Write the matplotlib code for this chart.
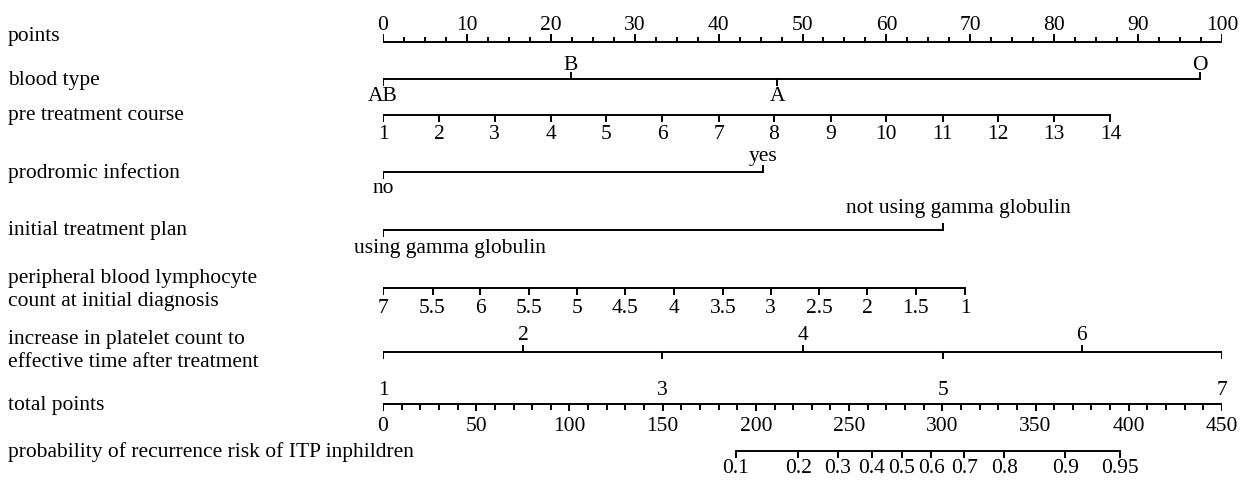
import numpy as np
from matplotlib import pyplot as plt
from matplotlib.transforms import offset_copy

# values (positions in "points", 0-100)
points_major = np.arange(0, 101, 10)
points_minor = np.arange(0, 100.1, 2.5)

blood_labels = ['AB', 'B', 'A', 'O']
blood_points = [0, 22.4, 47.0, 97.4]
blood_above = [False, True, False, True]

course_labels = ['1', '2', '3', '4', '5', '6', '7', '8', '9', '10', '11', '12', '13', '14']
course_points = [0, 6.7, 13.3, 20.0, 26.6, 33.3, 40.0, 46.6, 53.4, 60.0, 66.7, 73.3, 80.0, 86.7]

infection_labels = ['no', 'yes']
infection_points = [0, 45.3]

plan_labels = ['using gamma globulin', 'not using gamma globulin']
plan_points = [0, 66.8]

lympho_labels = ['7', '5.5', '6', '5.5', '5', '4.5', '4', '3.5', '3', '2.5', '2', '1.5', '1']
lympho_points = [0, 5.9, 11.6, 17.4, 23.1, 28.9, 34.7, 40.5, 46.2, 52.0, 57.7, 63.5, 69.4]

platelet_labels = ['1', '2', '3', '4', '5', '6', '7']
platelet_points = [0, 16.7, 33.3, 50.0, 66.7, 83.3, 100.0]

total_major = np.arange(0, 451, 50)
total_minor = np.arange(0, 451, 10)

prob_labels = ['0.1', '0.2', '0.3', '0.4', '0.5', '0.6', '0.7', '0.8', '0.9', '0.95']
prob_total = [189.3, 222.8, 243.9, 262.2, 278.3, 294.0, 311.8, 333.3, 365.9, 395.3]

row_names = ['points', 'blood type', 'pre treatment course', 'prodromic infection',
             'initial treatment plan',
             'peripheral blood lymphocyte\ncount at initial diagnosis',
             'increase in platelet count to\neffective time after treatment',
             'total points', 'probability of recurrence risk of ITP inphildren']

plt.rcParams['font.family'] = ['Liberation Serif', 'DejaVu Serif']

width, height, dpi = 1253, 480, 100
fig = plt.figure(figsize=(width / dpi, height / dpi), dpi=dpi)
# x in points: 0 -> pixel 383, 100 -> pixel 1222 ; y in pixels from top
ax = fig.add_axes([383 / width, 0, 839 / width, 1])
ax.set_xlim(0, 100)
ax.set_ylim(height, 0)
ax.axis('off')

lw = 1.4
fs = 15.5


def scale(y, pos, labels, up, tick=6, above_off=4, below_off=6, ha=None, dx=None):
    ax.plot([pos[0], pos[-1]], [y, y], color='black', lw=lw, solid_capstyle='butt')
    ha = ha or ['center'] * len(pos)
    dx = dx or [0] * len(pos)
    for p, lab, u, h, d_x in zip(pos, labels, up, ha, dx):
        d = -tick if u else tick
        ax.plot([p, p], [y, y + d], color='black', lw=lw)
        tr = offset_copy(ax.transData, fig=fig, x=d_x * 72 / dpi, y=0, units='points')
        if u:
            ax.text(p, y - tick - above_off, lab, ha=h, va='baseline', fontsize=fs, transform=tr)
        else:
            ax.text(p, y + tick + below_off, lab, ha=h, va='top', fontsize=fs, transform=tr)


# points
y = 42
ax.plot([0, 100], [y, y], color='black', lw=lw)
for p in points_minor:
    ax.plot([p, p], [y, y - 4], color='black', lw=lw)
for p in points_major:
    ax.plot([p, p], [y, y - 7], color='black', lw=lw)
    ax.text(p, y - 12, str(p), ha='center', va='baseline', fontsize=fs)

scale(79, blood_points, blood_labels, blood_above, above_off=3, below_off=2)
scale(115, course_points, course_labels, [False] * len(course_labels), below_off=4)
scale(172, infection_points, infection_labels, [False, True], above_off=5, below_off=1)
scale(230, plan_points, plan_labels, [False, True], above_off=11, below_off=3,
      ha=['left', 'center'], dx=[-29, 15])
scale(288, lympho_points, lympho_labels, [False] * len(lympho_labels), below_off=5)
scale(352, platelet_points, platelet_labels, [i % 2 == 1 for i in range(7)],
      above_off=6, below_off=23)

# total points
y = 404
tp = 100 / 450
ax.plot([0, 100], [y, y], color='black', lw=lw)
for t in total_minor:
    ax.plot([t * tp, t * tp], [y, y + 5], color='black', lw=lw)
for t in total_major:
    ax.plot([t * tp, t * tp], [y, y + 6], color='black', lw=lw)
    ax.text(t * tp, y + 13, str(t), ha='center', va='top', fontsize=fs)

scale(451, [t * tp for t in prob_total], prob_labels, [False] * len(prob_labels),
      below_off=2)

# row names on the left
name_y = [41, 85, 120, 178, 235, [283, 306], [344, 367], 410, 457]
for name, ny in zip(row_names, name_y):
    lines = name.split('\n')
    ys = ny if isinstance(ny, list) else [ny]
    for t, yy in zip(lines, ys):
        fig.text(8 / width, 1 - yy / height, t, ha='left', va='baseline', fontsize=fs)

plt.savefig('out.png', dpi=dpi)
plt.close()
